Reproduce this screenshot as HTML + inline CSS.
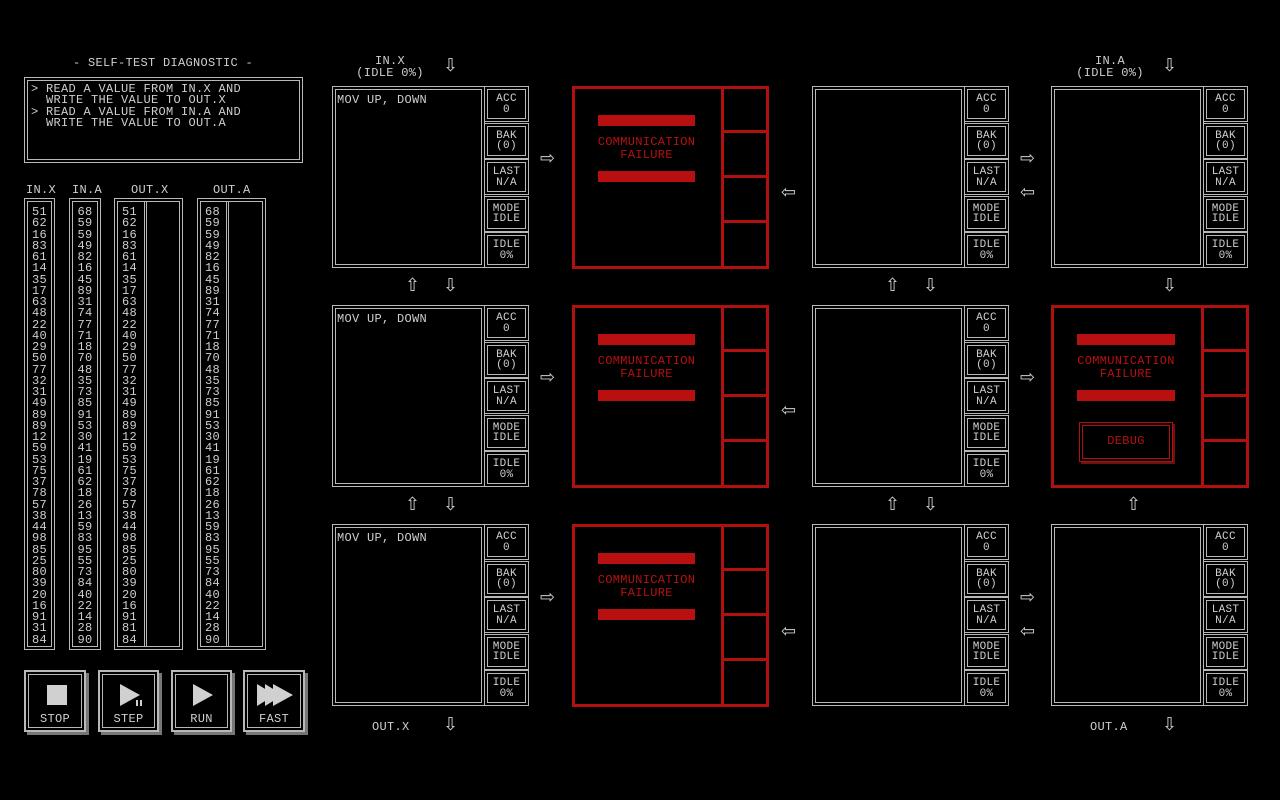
<!DOCTYPE html>
<html><head><meta charset="utf-8"><style>
body{margin:0;width:1280px;height:800px;background:#000;overflow:hidden;position:relative;font-family:"Liberation Mono","DejaVu Sans Mono",monospace;font-size:12px;color:#cfcfcf;letter-spacing:0.3px}
.a{position:absolute}
.d{position:absolute;box-sizing:border-box;border:1px solid #b8b8b8;box-shadow:inset 0 0 0 2px #000,inset 0 0 0 3px #b8b8b8}
.c{text-align:center}
.num{position:absolute;text-align:center;line-height:11.25px;font-size:12px;top:207px}
.r{position:absolute;box-sizing:border-box;border:3px solid #b01010}
.bar{position:absolute;background:#b81010;height:11px}
.rt{position:absolute;color:#b81010;text-align:center;line-height:13px;font-size:12px}
.ar{position:absolute;font-size:18px;line-height:18px;color:#cfcfcf;font-family:"DejaVu Sans",sans-serif}
.reg{position:absolute;left:152px;width:45px;height:36px;box-sizing:border-box;border:1px solid #b8b8b8;box-shadow:inset 0 0 0 2px #000,inset 0 0 0 3px #b8b8b8;text-align:center;line-height:10.5px;padding-top:7px;font-size:11px}
.btn{position:absolute;top:670px;height:62px;box-sizing:border-box;border:2px solid #b8b8b8;box-shadow:inset 0 0 0 2px #000,inset 0 0 0 3px #b8b8b8,3px 3px 0 #777;text-align:center}
.btn span{position:absolute;left:0;right:0;top:40px}
</style></head><body>

<div class="a c" style="left:24px;width:278px;top:56px">- SELF-TEST DIAGNOSTIC -</div>
<div class="d" style="left:24px;top:77px;width:279px;height:86px"></div>
<div class="a" style="left:31px;top:84px;line-height:11.3px;white-space:pre">&gt; READ A VALUE FROM IN.X AND
  WRITE THE VALUE TO OUT.X
&gt; READ A VALUE FROM IN.A AND
  WRITE THE VALUE TO OUT.A</div>

<div class="a" style="left:26px;top:183px">IN.X</div>
<div class="a" style="left:72px;top:183px">IN.A</div>
<div class="a" style="left:131px;top:183px">OUT.X</div>
<div class="a" style="left:213px;top:183px">OUT.A</div>

<div class="d" style="left:24px;top:198px;width:31px;height:452px"></div>
<div class="d" style="left:69px;top:198px;width:32px;height:452px"></div>
<div class="d" style="left:114px;top:198px;width:69px;height:452px"></div>
<div class="a" style="left:144px;top:201px;width:3px;height:446px;border-left:1px solid #b8b8b8;border-right:1px solid #b8b8b8;box-sizing:border-box"></div>
<div class="d" style="left:197px;top:198px;width:69px;height:452px"></div>
<div class="a" style="left:226px;top:201px;width:3px;height:446px;border-left:1px solid #b8b8b8;border-right:1px solid #b8b8b8;box-sizing:border-box"></div>

<div class="num" style="left:24px;width:31px">51<br>62<br>16<br>83<br>61<br>14<br>35<br>17<br>63<br>48<br>22<br>40<br>29<br>50<br>77<br>32<br>31<br>49<br>89<br>89<br>12<br>59<br>53<br>75<br>37<br>78<br>57<br>38<br>44<br>98<br>85<br>25<br>80<br>39<br>20<br>16<br>91<br>31<br>84</div>
<div class="num" style="left:69px;width:32px">68<br>59<br>59<br>49<br>82<br>16<br>45<br>89<br>31<br>74<br>77<br>71<br>18<br>70<br>48<br>35<br>73<br>85<br>91<br>53<br>30<br>41<br>19<br>61<br>62<br>18<br>26<br>13<br>59<br>83<br>95<br>55<br>73<br>84<br>40<br>22<br>14<br>28<br>90</div>
<div class="num" style="left:114px;width:31px">51<br>62<br>16<br>83<br>61<br>14<br>35<br>17<br>63<br>48<br>22<br>40<br>29<br>50<br>77<br>32<br>31<br>49<br>89<br>89<br>12<br>59<br>53<br>75<br>37<br>78<br>57<br>38<br>44<br>98<br>85<br>25<br>80<br>39<br>20<br>16<br>91<br>81<br>84</div>
<div class="num" style="left:197px;width:31px">68<br>59<br>59<br>49<br>82<br>16<br>45<br>89<br>31<br>74<br>77<br>71<br>18<br>70<br>48<br>35<br>73<br>85<br>91<br>53<br>30<br>41<br>19<br>61<br>62<br>18<br>26<br>13<br>59<br>83<br>95<br>55<br>73<br>84<br>40<br>22<br>14<br>28<br>90</div>

<div class="btn" style="left:24px;width:62px"><div class="a" style="left:21px;top:13px;width:20px;height:20px;background:#d0d0d0"></div><span>STOP</span></div>
<div class="btn" style="left:98px;width:61px"><svg class="a" style="left:20px;top:12px" width="26" height="26"><polygon points="0,0 0,22 20,11" fill="#d0d0d0"/><rect x="16" y="16" width="2" height="6" fill="#d0d0d0"/><rect x="20" y="16" width="2" height="6" fill="#d0d0d0"/></svg><span>STEP</span></div>
<div class="btn" style="left:171px;width:61px"><svg class="a" style="left:20px;top:12px" width="22" height="24"><polygon points="0,0 0,22 20,11" fill="#d0d0d0"/></svg><span>RUN</span></div>
<div class="btn" style="left:243px;width:62px"><svg class="a" style="left:12px;top:12px" width="40" height="24"><polygon points="0,0 0,22 18,11" fill="#d0d0d0"/><polygon points="8,0 8,22 26,11" fill="#d0d0d0"/><polygon points="16,0 16,22 36,11" fill="#d0d0d0"/></svg><span>FAST</span></div>

<div class="a c" style="left:350px;width:80px;top:55px;line-height:12px">IN.X<br>(IDLE 0%)</div>
<div class="a c" style="left:1070px;width:80px;top:55px;line-height:12px">IN.A<br>(IDLE 0%)</div>
<div class="a" style="left:372px;top:720px">OUT.X</div>
<div class="a" style="left:1090px;top:720px">OUT.A</div>

<div class="a" style="left:332px;top:86px;width:197px;height:182px">
<div class="d" style="left:0;top:0;width:153px;height:182px"></div><div class="a" style="left:5px;top:7px">MOV UP, DOWN</div>
<div class="reg" style="top:0">ACC<br>0</div><div class="reg" style="top:36.5px">BAK<br>(0)</div><div class="reg" style="top:73px">LAST<br>N/A</div><div class="reg" style="top:109.5px">MODE<br>IDLE</div><div class="reg" style="top:146px">IDLE<br>0%</div></div>
<div class="a" style="left:332px;top:305px;width:197px;height:182px">
<div class="d" style="left:0;top:0;width:153px;height:182px"></div><div class="a" style="left:5px;top:7px">MOV UP, DOWN</div>
<div class="reg" style="top:0">ACC<br>0</div><div class="reg" style="top:36.5px">BAK<br>(0)</div><div class="reg" style="top:73px">LAST<br>N/A</div><div class="reg" style="top:109.5px">MODE<br>IDLE</div><div class="reg" style="top:146px">IDLE<br>0%</div></div>
<div class="a" style="left:332px;top:524px;width:197px;height:182px">
<div class="d" style="left:0;top:0;width:153px;height:182px"></div><div class="a" style="left:5px;top:7px">MOV UP, DOWN</div>
<div class="reg" style="top:0">ACC<br>0</div><div class="reg" style="top:36.5px">BAK<br>(0)</div><div class="reg" style="top:73px">LAST<br>N/A</div><div class="reg" style="top:109.5px">MODE<br>IDLE</div><div class="reg" style="top:146px">IDLE<br>0%</div></div>

<div class="a" style="left:812px;top:86px;width:197px;height:182px">
<div class="d" style="left:0;top:0;width:153px;height:182px"></div>
<div class="reg" style="top:0">ACC<br>0</div><div class="reg" style="top:36.5px">BAK<br>(0)</div><div class="reg" style="top:73px">LAST<br>N/A</div><div class="reg" style="top:109.5px">MODE<br>IDLE</div><div class="reg" style="top:146px">IDLE<br>0%</div></div>
<div class="a" style="left:812px;top:305px;width:197px;height:182px">
<div class="d" style="left:0;top:0;width:153px;height:182px"></div>
<div class="reg" style="top:0">ACC<br>0</div><div class="reg" style="top:36.5px">BAK<br>(0)</div><div class="reg" style="top:73px">LAST<br>N/A</div><div class="reg" style="top:109.5px">MODE<br>IDLE</div><div class="reg" style="top:146px">IDLE<br>0%</div></div>
<div class="a" style="left:812px;top:524px;width:197px;height:182px">
<div class="d" style="left:0;top:0;width:153px;height:182px"></div>
<div class="reg" style="top:0">ACC<br>0</div><div class="reg" style="top:36.5px">BAK<br>(0)</div><div class="reg" style="top:73px">LAST<br>N/A</div><div class="reg" style="top:109.5px">MODE<br>IDLE</div><div class="reg" style="top:146px">IDLE<br>0%</div></div>

<div class="a" style="left:1051px;top:86px;width:197px;height:182px">
<div class="d" style="left:0;top:0;width:153px;height:182px"></div>
<div class="reg" style="top:0">ACC<br>0</div><div class="reg" style="top:36.5px">BAK<br>(0)</div><div class="reg" style="top:73px">LAST<br>N/A</div><div class="reg" style="top:109.5px">MODE<br>IDLE</div><div class="reg" style="top:146px">IDLE<br>0%</div></div>
<div class="a" style="left:1051px;top:524px;width:197px;height:182px">
<div class="d" style="left:0;top:0;width:153px;height:182px"></div>
<div class="reg" style="top:0">ACC<br>0</div><div class="reg" style="top:36.5px">BAK<br>(0)</div><div class="reg" style="top:73px">LAST<br>N/A</div><div class="reg" style="top:109.5px">MODE<br>IDLE</div><div class="reg" style="top:146px">IDLE<br>0%</div></div>

<div class="a" style="left:572px;top:86px;width:197px;height:183px">
<div class="r" style="left:0;top:0;width:197px;height:183px"></div><div class="a" style="left:149px;top:0;width:3px;height:183px;background:#b01010"></div>
<div class="a" style="left:150px;top:44px;width:47px;height:3px;background:#b01010"></div><div class="a" style="left:150px;top:89px;width:47px;height:3px;background:#b01010"></div><div class="a" style="left:150px;top:134px;width:47px;height:3px;background:#b01010"></div>
<div class="bar" style="left:26px;top:29px;width:97px"></div><div class="rt" style="left:0;width:149px;top:50px">COMMUNICATION<br>FAILURE</div><div class="bar" style="left:26px;top:85px;width:97px"></div></div>
<div class="a" style="left:572px;top:305px;width:197px;height:183px">
<div class="r" style="left:0;top:0;width:197px;height:183px"></div><div class="a" style="left:149px;top:0;width:3px;height:183px;background:#b01010"></div>
<div class="a" style="left:150px;top:44px;width:47px;height:3px;background:#b01010"></div><div class="a" style="left:150px;top:89px;width:47px;height:3px;background:#b01010"></div><div class="a" style="left:150px;top:134px;width:47px;height:3px;background:#b01010"></div>
<div class="bar" style="left:26px;top:29px;width:97px"></div><div class="rt" style="left:0;width:149px;top:50px">COMMUNICATION<br>FAILURE</div><div class="bar" style="left:26px;top:85px;width:97px"></div></div>
<div class="a" style="left:572px;top:524px;width:197px;height:183px">
<div class="r" style="left:0;top:0;width:197px;height:183px"></div><div class="a" style="left:149px;top:0;width:3px;height:183px;background:#b01010"></div>
<div class="a" style="left:150px;top:44px;width:47px;height:3px;background:#b01010"></div><div class="a" style="left:150px;top:89px;width:47px;height:3px;background:#b01010"></div><div class="a" style="left:150px;top:134px;width:47px;height:3px;background:#b01010"></div>
<div class="bar" style="left:26px;top:29px;width:97px"></div><div class="rt" style="left:0;width:149px;top:50px">COMMUNICATION<br>FAILURE</div><div class="bar" style="left:26px;top:85px;width:97px"></div></div>
<div class="a" style="left:1051px;top:305px;width:198px;height:183px">
<div class="r" style="left:0;top:0;width:198px;height:183px"></div><div class="a" style="left:150px;top:0;width:3px;height:183px;background:#b01010"></div>
<div class="a" style="left:151px;top:44px;width:47px;height:3px;background:#b01010"></div><div class="a" style="left:151px;top:89px;width:47px;height:3px;background:#b01010"></div><div class="a" style="left:151px;top:134px;width:47px;height:3px;background:#b01010"></div>
<div class="bar" style="left:26px;top:29px;width:98px"></div><div class="rt" style="left:0;width:150px;top:50px">COMMUNICATION<br>FAILURE</div><div class="bar" style="left:26px;top:85px;width:98px"></div>
<div class="a" style="left:28px;top:117px;width:94px;height:40px;box-sizing:border-box;border:1px solid #b01010;box-shadow:inset 0 0 0 2px #000,inset 0 0 0 3px #b01010,2px 2px 0 #701010"></div>
<div class="rt" style="left:28px;width:94px;top:130px">DEBUG</div></div>

<div class="ar" style="left:540px;top:150px">⇨</div>
<div class="ar" style="left:781px;top:184px">⇦</div>
<div class="ar" style="left:1020px;top:150px">⇨</div>
<div class="ar" style="left:1020px;top:184px">⇦</div>
<div class="ar" style="left:540px;top:369px">⇨</div>
<div class="ar" style="left:781px;top:402px">⇦</div>
<div class="ar" style="left:1020px;top:369px">⇨</div>
<div class="ar" style="left:540px;top:589px">⇨</div>
<div class="ar" style="left:781px;top:623px">⇦</div>
<div class="ar" style="left:1020px;top:589px">⇨</div>
<div class="ar" style="left:1020px;top:623px">⇦</div>
<div class="ar" style="left:443px;top:57px">⇩</div>
<div class="ar" style="left:1162px;top:57px">⇩</div>
<div class="ar" style="left:405px;top:277px">⇧</div>
<div class="ar" style="left:443px;top:277px">⇩</div>
<div class="ar" style="left:885px;top:277px">⇧</div>
<div class="ar" style="left:923px;top:277px">⇩</div>
<div class="ar" style="left:1162px;top:277px">⇩</div>
<div class="ar" style="left:405px;top:496px">⇧</div>
<div class="ar" style="left:443px;top:496px">⇩</div>
<div class="ar" style="left:885px;top:496px">⇧</div>
<div class="ar" style="left:923px;top:496px">⇩</div>
<div class="ar" style="left:1126px;top:496px">⇧</div>
<div class="ar" style="left:443px;top:716px">⇩</div>
<div class="ar" style="left:1162px;top:716px">⇩</div>
</body></html>
